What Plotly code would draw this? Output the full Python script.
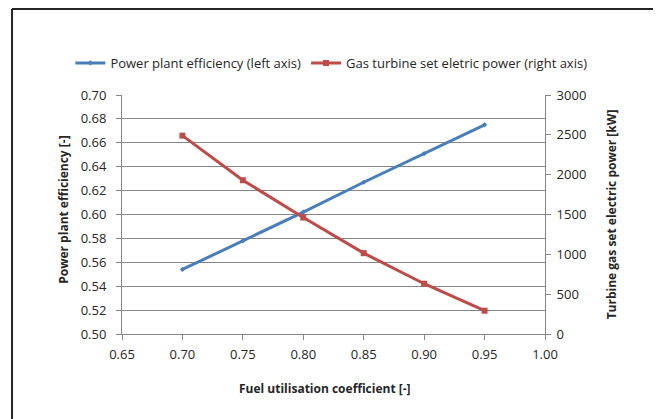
import plotly.graph_objects as go

fuel_coeff = [0.70, 0.75, 0.80, 0.85, 0.90, 0.95]
efficiency = [0.554, 0.578, 0.602, 0.627, 0.651, 0.675]
power_kw = [2490, 1930, 1462, 1015, 631, 292]

BLUE = "#4A7EBB"
RED = "#BE4B48"
GREY = "#868686"
TXT = "#262626"
FONT = "Open Sans"

fig = go.Figure()
fig.add_trace(go.Scatter(
    x=fuel_coeff, y=efficiency, name="Power plant efficiency (left axis)",
    mode="lines+markers", line=dict(color=BLUE, width=3),
    marker=dict(symbol="diamond", size=4, color=BLUE),
))
fig.add_trace(go.Scatter(
    x=fuel_coeff, y=power_kw, name="Gas turbine set eletric power (right axis)",
    mode="lines+markers", line=dict(color=RED, width=3),
    marker=dict(symbol="square", size=6, color=RED), yaxis="y2",
))

axis_common = dict(
    showline=True, linecolor=GREY, linewidth=1,
    ticks="outside", ticklen=5, tickcolor=GREY,
    tickfont=dict(family=FONT, size=13, color=TXT),
    zeroline=False, automargin=False,
)

# the page body adds an 8 px offset, so the figure is a bit smaller
fig.update_layout(
    width=653, height=411,
    margin=dict(l=114, r=116, t=87, b=85, autoexpand=False),
    paper_bgcolor="white", plot_bgcolor="white",
    showlegend=True,
    legend=dict(
        orientation="h", x=-0.122, xanchor="left",
        y=1.134, yanchor="middle",
        font=dict(family=FONT, size=13, color=TXT),
        tracegroupgap=0,
    ),
    xaxis=dict(
        range=[0.65, 1.0], dtick=0.05, tick0=0.65, tickformat=".2f",
        showgrid=False, ticklabelstandoff=3, **axis_common,
    ),
    yaxis=dict(
        range=[0.50, 0.70], dtick=0.02, tickformat=".2f",
        showgrid=True, gridcolor=GREY, gridwidth=1, ticklabelstandoff=7,
        **axis_common,
    ),
    yaxis2=dict(
        range=[0, 3000], dtick=500, overlaying="y", side="right",
        showgrid=False, ticklabelstandoff=3, **axis_common,
    ),
)

# axis titles as annotations (fixed positions)
title_font = dict(family=FONT, size=12, color=TXT)
fig.add_annotation(text="<b>Fuel utilisation coefficient [-]</b>",
                   xref="paper", yref="paper", x=0.48, y=-0.226,
                   xanchor="center", yanchor="middle",
                   showarrow=False, font=title_font)
fig.add_annotation(text="<b>Power plant efficiency [-]</b>",
                   xref="paper", yref="paper", x=-0.137, y=0.52,
                   xanchor="center", yanchor="middle",
                   textangle=-90, showarrow=False, font=title_font)
fig.add_annotation(text="<b>Turbine gas set electric power [kW]</b>",
                   xref="paper", yref="paper", x=1.158, y=0.5,
                   xanchor="center", yanchor="middle",
                   textangle=-90, showarrow=False, font=title_font)

# chart frame (only left and top edges fall inside the picture)
fig.add_shape(type="line", xref="paper", yref="paper",
              x0=-0.260, x1=-0.260, y0=1.36, y1=-0.5,
              line=dict(color="#262626", width=2))
fig.add_shape(type="line", xref="paper", yref="paper",
              x0=-0.260, x1=1.6, y0=1.36, y1=1.36,
              line=dict(color="#262626", width=2))

fig.write_html("out.html")
